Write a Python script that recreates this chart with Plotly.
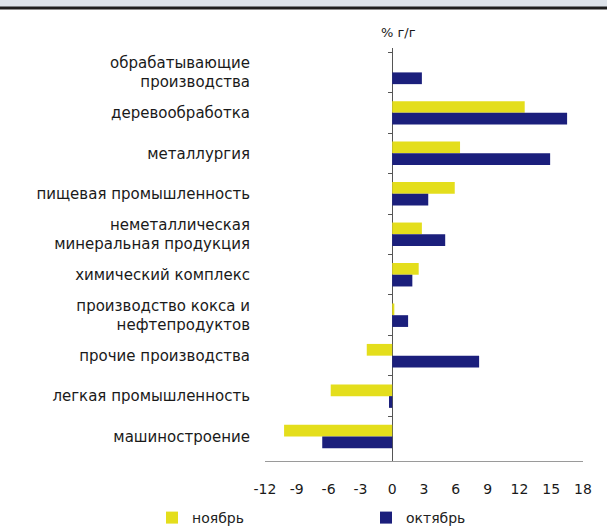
import plotly.graph_objects as go

# Industry sectors (top to bottom)
categories = [
    "обрабатывающие<br>производства",
    "деревообработка",
    "металлургия",
    "пищевая промышленность",
    "неметаллическая<br>минеральная продукция",
    "химический комплекс",
    "производство кокса и<br>нефтепродуктов",
    "прочие производства",
    "легкая промышленность",
    "машиностроение",
]

# Growth, % year on year
november = [None, 12.5, 6.4, 5.9, 2.8, 2.5, 0.2, -2.4, -5.8, -10.2]
october = [2.8, 16.5, 14.9, 3.4, 5.0, 1.9, 1.5, 8.2, -0.3, -6.6]

x_ticks = [-12, -9, -6, -3, 0, 3, 6, 9, 12, 15, 18]

YELLOW = "#E4DE1C"
NAVY = "#1B1F7C"
FONT = "DejaVu Sans, Arial, sans-serif"

W, H = 607, 528
L, R, T, B = 265, 24, 48, 67
plot_w = W - L - R

fig = go.Figure()
fig.add_trace(go.Bar(
    y=categories, x=november, orientation="h", name="ноябрь",
    marker=dict(color=YELLOW, line=dict(width=0)), legend="legend",
))
fig.add_trace(go.Bar(
    y=categories, x=october, orientation="h", name="октябрь",
    marker=dict(color=NAVY, line=dict(width=0)), legend="legend2",
))
# carrier trace for the tick marks drawn along the zero line
fig.add_trace(go.Scatter(
    y=categories, x=[0] * len(categories), yaxis="y2", mode="markers",
    marker=dict(opacity=0), showlegend=False, hoverinfo="skip",
))

zero_pos = (0 - x_ticks[0]) / (x_ticks[-1] - x_ticks[0])

legend_common = dict(
    orientation="h",
    xref="container", yref="container",
    y=1 - 502 / H, xanchor="left", yanchor="top",
    font=dict(size=14, color="#222222"),
    itemwidth=30,
    bgcolor="rgba(0,0,0,0)",
)

fig.update_layout(
    width=W, height=H,
    margin=dict(l=L, r=R, t=T, b=B, autoexpand=False),
    paper_bgcolor="white",
    plot_bgcolor="white",
    barmode="group",
    bargap=0.42,
    bargroupgap=0,
    font=dict(family=FONT, size=13, color="#222222"),
    xaxis=dict(
        range=[x_ticks[0], x_ticks[-1]],
        tickvals=x_ticks,
        ticktext=[str(v) for v in x_ticks],
        showgrid=False,
        zeroline=True, zerolinecolor="#555555", zerolinewidth=1,
        showline=True, linecolor="#9a9a9a", linewidth=1,
        ticks="", ticklabelstandoff=15,
        tickfont=dict(size=14, color="#1a1a1a"),
        fixedrange=True,
    ),
    yaxis=dict(
        autorange="reversed",
        showgrid=False, showline=False, ticks="",
        ticklabelstandoff=14,
        tickfont=dict(size=15, color="#1a1a1a"),
    ),
    yaxis2=dict(
        overlaying="y", matches="y", anchor="free", position=zero_pos,
        showticklabels=False, showgrid=False, showline=False,
        ticks="outside", ticklen=4, tickcolor="#555555",
        tickson="boundaries",
    ),
    legend=dict(legend_common, x=152 / W),
    legend2=dict(legend_common, x=366 / W),
    annotations=[
        dict(
            text="% г/г", x=0, y=1, xref="x", yref="paper",
            xshift=6, yshift=25, showarrow=False,
            font=dict(size=13, color="#1a1a1a"),
        )
    ],
    shapes=[
        # header band and rule across the top of the page
        dict(type="rect", xref="paper", yref="paper",
             x0=-L / plot_w, x1=(W - L) / plot_w,
             y0=1 + (T - 7) / (H - T - B), y1=1 + T / (H - T - B),
             fillcolor="#dde3ea", line=dict(width=0), layer="below"),
        dict(type="line", xref="paper", yref="paper",
             x0=-L / plot_w, x1=(W - L) / plot_w,
             y0=1 + (T - 8) / (H - T - B), y1=1 + (T - 8) / (H - T - B),
             line=dict(color="#1e1e1e", width=3)),
    ],
    showlegend=True,
)

fig.write_html("out.html")
